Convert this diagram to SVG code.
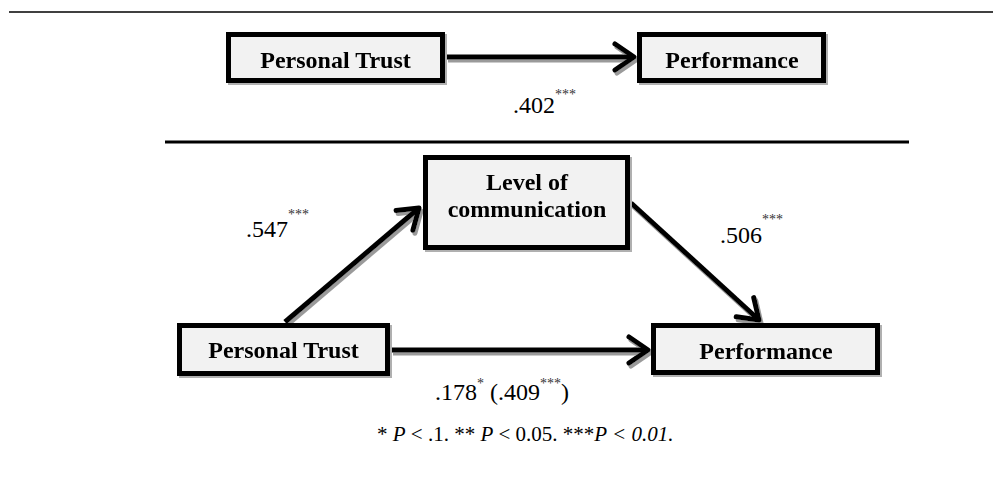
<svg xmlns="http://www.w3.org/2000/svg" width="993" height="483" viewBox="0 0 993 483">
  <style>
    .box { fill: #f2f2f2; stroke: #000; stroke-width: 5; }
    .label { font-family: "Liberation Serif", "Times New Roman", serif; font-weight: bold; font-size: 24px; fill: #000; text-anchor: middle; }
    .coef { font-family: "Liberation Serif", "Times New Roman", serif; font-size: 24px; fill: #000; }
    .sig { font-size: 14px; fill: #333; }
    .note { font-family: "Liberation Serif", "Times New Roman", serif; font-size: 21px; fill: #000; }
    .edge { stroke: #000; stroke-width: 5; fill: none; marker-end: url(#chevron); }
    .rule { stroke: #000; }
  </style>
  <defs>
    <filter id="shade" filterUnits="userSpaceOnUse" x="0" y="0" width="993" height="483">
      <feOffset in="SourceAlpha" dx="2" dy="3" result="off"/>
      <feFlood flood-color="#9a9a9a"/>
      <feComposite in2="off" operator="in" result="sh"/>
      <feMerge><feMergeNode in="sh"/><feMergeNode in="SourceGraphic"/></feMerge>
    </filter>
    <filter id="boxshade" filterUnits="userSpaceOnUse" x="0" y="0" width="993" height="483">
      <feOffset in="SourceAlpha" dx="2" dy="2" result="off"/>
      <feFlood flood-color="#b0b0b0"/>
      <feComposite in2="off" operator="in" result="sh"/>
      <feMerge><feMergeNode in="sh"/><feMergeNode in="SourceGraphic"/></feMerge>
    </filter>
    <marker id="chevron" markerUnits="userSpaceOnUse" markerWidth="40" markerHeight="40" refX="0" refY="0" orient="auto" overflow="visible">
      <path d="M-19,-13 L0,0 L-19,13" fill="none" stroke="#000" stroke-width="5" stroke-linejoin="round" stroke-linecap="round"/>
    </marker>
  </defs>

  <!-- horizontal rules -->
  <line class="rule" x1="9" y1="12" x2="993" y2="12" stroke-width="1.6" stroke="#222"/>
  <line class="rule" x1="165" y1="142" x2="909" y2="142" stroke-width="3"/>

  <!-- connectors -->
  <g id="connectors" filter="url(#shade)">
    <line class="edge" x1="446" y1="57" x2="634" y2="57"/>
    <line class="edge" x1="285" y1="322" x2="419" y2="208"/>
    <line class="edge" x1="631" y1="203" x2="759" y2="320"/>
    <line class="edge" x1="391" y1="350" x2="648" y2="350"/>
  </g>

  <!-- upper model -->
  <g id="trust-top" filter="url(#boxshade)">
    <rect class="box" x="228.5" y="34.5" width="214" height="46"/>
    <text class="label" x="335.5" y="68">Personal Trust</text>
  </g>
  <g id="performance-top" filter="url(#boxshade)">
    <rect class="box" x="639.5" y="34.5" width="184" height="46"/>
    <text class="label" x="732" y="68">Performance</text>
  </g>

  <!-- mediation model -->
  <g id="communication" filter="url(#boxshade)">
    <rect class="box" x="425.5" y="157.5" width="202" height="90"/>
    <text class="label" x="527" y="190" font-size="22">Level of</text>
    <text class="label" x="527" y="217" font-size="22">communication</text>
  </g>
  <g id="trust-bottom" filter="url(#boxshade)">
    <rect class="box" x="179.5" y="325.5" width="208" height="48"/>
    <text class="label" x="283.5" y="358">Personal Trust</text>
  </g>
  <g id="performance-bottom" filter="url(#boxshade)">
    <rect class="box" x="653.5" y="325.5" width="224" height="47"/>
    <text class="label" x="766" y="359">Performance</text>
  </g>

  <!-- path coefficients -->
  <g id="coefficients">
    <text class="coef" x="513" y="113">.402<tspan class="sig" dy="-14">***</tspan></text>
    <text class="coef" x="246" y="237">.547<tspan class="sig" dy="-18">***</tspan></text>
    <text class="coef" x="720" y="243">.506<tspan class="sig" dy="-19">***</tspan></text>
    <text class="coef" x="435" y="400">.178<tspan class="sig" dy="-12">*</tspan><tspan dy="12"> (.409</tspan><tspan class="sig" dy="-12">***</tspan><tspan dy="12">)</tspan></text>
  </g>

  <!-- significance note -->
  <text class="note" x="377" y="441">* <tspan font-style="italic">P</tspan> &lt; .1. ** <tspan font-style="italic">P</tspan> &lt; 0.05. ***<tspan font-style="italic">P &lt; 0.01.</tspan></text>
</svg>
